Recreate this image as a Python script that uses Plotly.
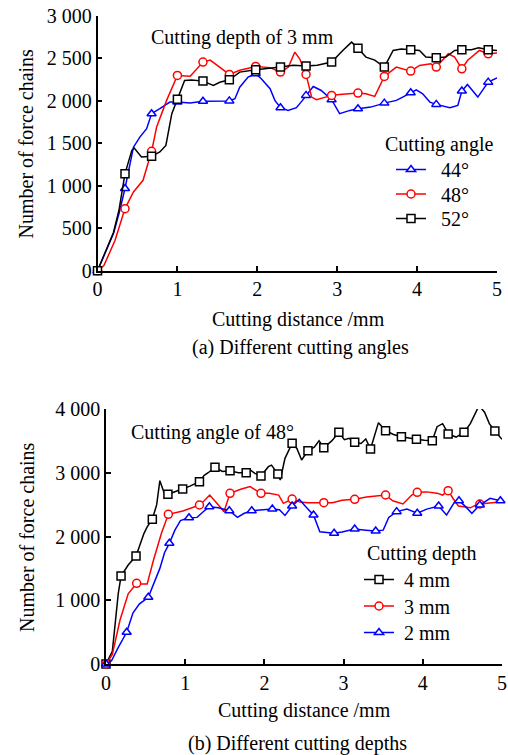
import plotly.graph_objects as go

FONT = "Liberation Serif, Times New Roman, serif"
W, H = 508, 755

# ---------------- (a) Different cutting angles (cutting depth 3 mm) ----------------
a_mark_x = [0, 0.344, 0.677, 1.0, 1.32, 1.65, 1.98, 2.29, 2.61, 2.93, 3.26, 3.59, 3.92, 4.24, 4.56, 4.89]
a44_mark_y = [0, 968, 1849, 1986, 1995, 2000, 2320, 1920, 2065, 2014, 1908, 1974, 2096, 1959, 2116, 2221]
a48_mark_y = [0, 731, 1406, 2300, 2457, 2312, 2406, 2339, 2312, 2065, 2092, 2288, 2351, 2398, 2378, 2555]
a52_mark_y = [0, 1143, 1347, 2018, 2233, 2249, 2367, 2398, 2410, 2457, 2621, 2398, 2602, 2508, 2602, 2602]

a44_x = [0.1, 0.2, 0.27, 0.45, 0.53, 0.615, 0.78, 0.906, 1.16, 1.49, 1.72, 1.78, 1.885,
         2.05, 2.16, 2.22, 2.385, 2.49, 2.565, 2.70, 2.80, 3.03, 3.16, 3.42, 3.74, 3.82,
         3.99, 4.07, 4.16, 4.41, 4.51, 4.63, 4.76, 5.0]
a44_y = [220, 437, 676, 1455, 1574, 1673, 1908, 1986, 1975, 2000, 2026, 2162, 2280,
         2261, 2143, 2006, 1888, 1920, 2006, 2170, 2123, 1849, 1888, 1927, 2006, 2045,
         2131, 2084, 1986, 1920, 1947, 2194, 2045, 2272]
a48_x = [0.08, 0.22, 0.45, 0.57, 0.74, 0.865, 1.16, 1.41, 1.53, 1.78, 2.16, 2.39, 2.47,
         2.53, 2.68, 2.74, 3.03, 3.36, 3.47, 3.55, 3.74, 4.03, 4.17, 4.39, 4.47, 4.63,
         4.78, 5.0]
a48_y = [60, 359, 927, 1065, 1692, 2006, 2290, 2480, 2400, 2360, 2392, 2398, 2575,
         2496, 2045, 2014, 2076, 2084, 2053, 2202, 2398, 2418, 2437, 2555, 2516, 2476,
         2594, 2563]
a52_x = [0.1, 0.2, 0.27, 0.43, 0.46, 0.55, 0.78, 0.856, 0.93, 1.09, 1.18, 1.45, 1.53,
         1.78, 2.12, 2.45, 2.75, 2.85, 3.07, 3.18, 3.36, 3.47, 3.70, 3.80, 4.03, 4.11,
         4.36, 4.47, 4.68, 4.77, 5.0]
a52_y = [230, 450, 720, 1418, 1445, 1339, 1398, 1476, 1849, 2241, 2245, 2182, 2220,
         2339, 2380, 2420, 2420, 2440, 2594, 2692, 2516, 2480, 2594, 2610, 2594, 2516,
         2516, 2594, 2602, 2625, 2594]

# ---------------- (b) Different cutting depths (cutting angle 48°) ----------------
b4_mark_x = [0, 0.19, 0.379, 0.585, 0.782, 0.968, 1.18, 1.376, 1.566, 1.77, 1.957, 2.17, 2.35,
             2.55, 2.75, 2.94, 3.14, 3.34, 3.53, 3.73, 3.92, 4.12, 4.32, 4.52, 4.71, 4.91]
b4_mark_y = [0, 1380, 1694, 2270, 2662, 2745, 2860, 3085, 3033, 3001, 2949, 2980, 3462,
             3346, 3393, 3634, 3477, 3373, 3660, 3566, 3525, 3503, 3608, 3634, 4052, 3655]
b4_x = [0.08, 0.155, 0.28, 0.33, 0.48, 0.52, 0.64, 0.68, 0.73, 0.87, 1.06, 1.24, 1.29,
        1.47, 1.67, 1.82, 1.88, 2.05, 2.09, 2.2, 2.26, 2.41, 2.47, 2.63, 2.69, 2.85,
        3.01, 3.07, 3.22, 3.28, 3.39, 3.44, 3.63, 3.83, 4.02, 4.18, 4.25, 4.30, 4.42,
        4.6, 4.68, 4.78, 4.84, 5.0]
b4_y = [200, 1109, 1553, 1620, 2050, 2150, 2500, 2876, 2700, 2700, 2790, 2960, 3000,
        3020, 3000, 3043, 2990, 3095, 3120, 2886, 3226, 3380, 3200, 3400, 3500, 3500,
        3520, 3540, 3460, 3530, 3600, 3786, 3600, 3540, 3510, 3723, 3770, 3660, 3560,
        3770, 3980, 3950, 3770, 3525]

b3_mark_x = [0, 0.387, 0.787, 1.18, 1.566, 1.957, 2.35, 2.75, 3.14, 3.53, 3.93, 4.32, 4.72]
b3_mark_y = [0, 1266, 2348, 2494, 2677, 2677, 2588, 2531, 2583, 2651, 2693, 2719, 2510]
b3_x = [0.08, 0.177, 0.28, 0.45, 0.52, 0.6, 0.70, 0.97, 1.07, 1.24, 1.31, 1.40, 1.49,
        1.70, 1.82, 2.06, 2.18, 2.24, 2.45, 2.55, 2.86, 2.98, 3.29, 3.62, 3.75, 3.86,
        4.05, 4.18, 4.25, 4.38, 4.45, 4.60, 4.68, 4.85, 5.0]
b3_y = [150, 690, 1100, 1255, 1255, 1631, 2050, 2400, 2450, 2560, 2651, 2520, 2390,
        2740, 2782, 2680, 2650, 2520, 2540, 2531, 2530, 2570, 2620, 2560, 2510, 2650,
        2700, 2680, 2650, 2600, 2478, 2450, 2500, 2530, 2546]

b2_mark_x = [0, 0.261, 0.534, 0.80, 1.048, 1.305, 1.557, 1.84, 2.10, 2.35, 2.62, 2.88, 3.14,
             3.405, 3.67, 3.93, 4.20, 4.457, 4.72, 4.98]
b2_mark_y = [0, 497, 1046, 1893, 2295, 2468, 2405, 2405, 2431, 2478, 2337, 2050, 2118,
             2086, 2390, 2364, 2478, 2562, 2494, 2562]
b2_x = [0.07, 0.15, 0.34, 0.42, 0.62, 0.68, 0.74, 0.87, 0.94, 1.15, 1.22, 1.42, 1.66,
        1.74, 1.95, 2.19, 2.26, 2.44, 2.52, 2.70, 2.98, 3.28, 3.5, 3.57, 3.80, 4.05,
        4.30, 4.40, 4.53, 4.62, 4.85]
b2_y = [50, 250, 800, 940, 1300, 1500, 1750, 2100, 2250, 2300, 2380, 2450, 2300,
        2360, 2420, 2420, 2330, 2583, 2470, 2075, 2070, 2100, 2100, 2300, 2430, 2430,
        2337, 2540, 2480, 2364, 2599]

a_yticks = [0, 500, 1000, 1500, 2000, 2500, 3000]
a_yticktext = ["0", "500", "1 000", "1 500", "2 000", "2 500", "3 000"]
b_yticks = [0, 1000, 2000, 3000, 4000]
b_yticktext = ["0", "1 000", "2 000", "3 000", "4 000"]
xticks = [0, 1, 2, 3, 4, 5]


def merged(lx, ly, mx, my):
    pts = sorted(list(zip(lx, ly)) + list(zip(mx, my)))
    return [p[0] for p in pts], [p[1] for p in pts]


def px(v):
    return v / W


def py(v):
    return 1 - v / H


fig = go.Figure()
legend_layout = {}


def add_series(name, color, symbol, msize, lx, ly, mx, my, xa, ya, legend, lx_px, ly_px):
    x, y = merged(lx, ly, mx, my)
    fig.add_trace(go.Scatter(x=x, y=y, mode="lines", xaxis=xa, yaxis=ya,
                             line=dict(color=color, width=1.5), showlegend=False,
                             hoverinfo="skip", cliponaxis=False))
    fig.add_trace(go.Scatter(x=mx, y=my, mode="markers", xaxis=xa, yaxis=ya,
                             marker=dict(symbol=symbol, size=msize, color="white",
                                         line=dict(color=color, width=1.5)),
                             showlegend=False, cliponaxis=False))
    fig.add_trace(go.Scatter(x=[None], y=[None], mode="lines+markers", xaxis=xa, yaxis=ya,
                             name=name, legend=legend,
                             line=dict(color=color, width=1.5),
                             marker=dict(symbol=symbol, size=msize, color="white",
                                         line=dict(color=color, width=1.5))))
    # each legend entry is its own legend box so its row can be placed exactly
    legend_layout[legend] = dict(x=px(lx_px), y=py(ly_px - 19), xanchor="left", yanchor="top",
                                 bgcolor="rgba(0,0,0,0)",
                                 font=dict(family=FONT, size=20, color="black"))


# top chart (legend rows centred at y = 169, 193, 218)
add_series("\u00a0\u00a044°", "#0000ff", "triangle-up", 8, a44_x, a44_y, a_mark_x, a44_mark_y, "x", "y", "legend", 391, 169)
add_series("\u00a0\u00a048°", "#ff0000", "circle", 8, a48_x, a48_y, a_mark_x, a48_mark_y, "x", "y", "legend2", 391, 193.5)
add_series("\u00a0\u00a052°", "#000000", "square", 8, a52_x, a52_y, a_mark_x, a52_mark_y, "x", "y", "legend3", 391, 218)
# bottom chart (legend rows centred at y = 579, 606, 632)
add_series("\u00a04 mm", "#000000", "square", 8, b4_x, b4_y, b4_mark_x, b4_mark_y, "x2", "y2", "legend4", 359, 579)
add_series("\u00a03 mm", "#ff0000", "circle", 8, b3_x, b3_y, b3_mark_x, b3_mark_y, "x2", "y2", "legend5", 359, 605.5)
add_series("\u00a02 mm", "#0000ff", "triangle-up", 8, b2_x, b2_y, b2_mark_x, b2_mark_y, "x2", "y2", "legend6", 359, 632)

axis_common = dict(showgrid=False, zeroline=False, showline=True, linecolor="black",
                   linewidth=1.5, ticks="inside", ticklen=5, tickwidth=1.5,
                   tickcolor="black", automargin=False,
                   tickfont=dict(family=FONT, size=20, color="black"))

fig.update_layout(
    width=W, height=H, margin=dict(l=0, r=0, t=0, b=0, autoexpand=False),
    paper_bgcolor="white", plot_bgcolor="white",
    font=dict(family=FONT, size=20, color="black"),
    xaxis=dict(domain=[px(97.5), px(497)], range=[0, 5], tickvals=xticks, anchor="y",
               **axis_common),
    yaxis=dict(domain=[py(270.7), py(16)], range=[0, 3000], tickvals=a_yticks,
               ticktext=a_yticktext, anchor="x", **axis_common),
    xaxis2=dict(domain=[px(106), px(502)], range=[0, 5], tickvals=xticks, anchor="y2",
                **axis_common),
    yaxis2=dict(domain=[py(664), py(409)], range=[0, 4000], tickvals=b_yticks,
                ticktext=b_yticktext, anchor="x2", **axis_common),
    showlegend=True,
    **legend_layout,
)

ann = [
    ("Cutting depth of 3 mm", 242, 38, 0, "center"),
    ("Cutting angle", 383, 144, 0, "left"),
    ("Number of force chains", 25, 143.5, -90, "center"),
    ("Cutting distance /mm", 298, 319, 0, "center"),
    ("(a) Different cutting angles", 300, 347, 0, "center"),
    ("Cutting angle of 48°", 212, 433, 0, "center"),
    ("Cutting depth", 365, 553, 0, "left"),
    ("Number of force chains", 27, 537, -90, "center"),
    ("Cutting distance /mm", 304, 710, 0, "center"),
    ("(b) Different cutting depths", 297, 743, 0, "center"),
]
for text, x, y, ang, xa in ann:
    fig.add_annotation(text=text, x=px(x), y=py(y), xref="paper", yref="paper",
                       showarrow=False, textangle=ang, xanchor=xa, yanchor="middle",
                       font=dict(family=FONT, size=20, color="black"))

fig.write_html("out.html")
